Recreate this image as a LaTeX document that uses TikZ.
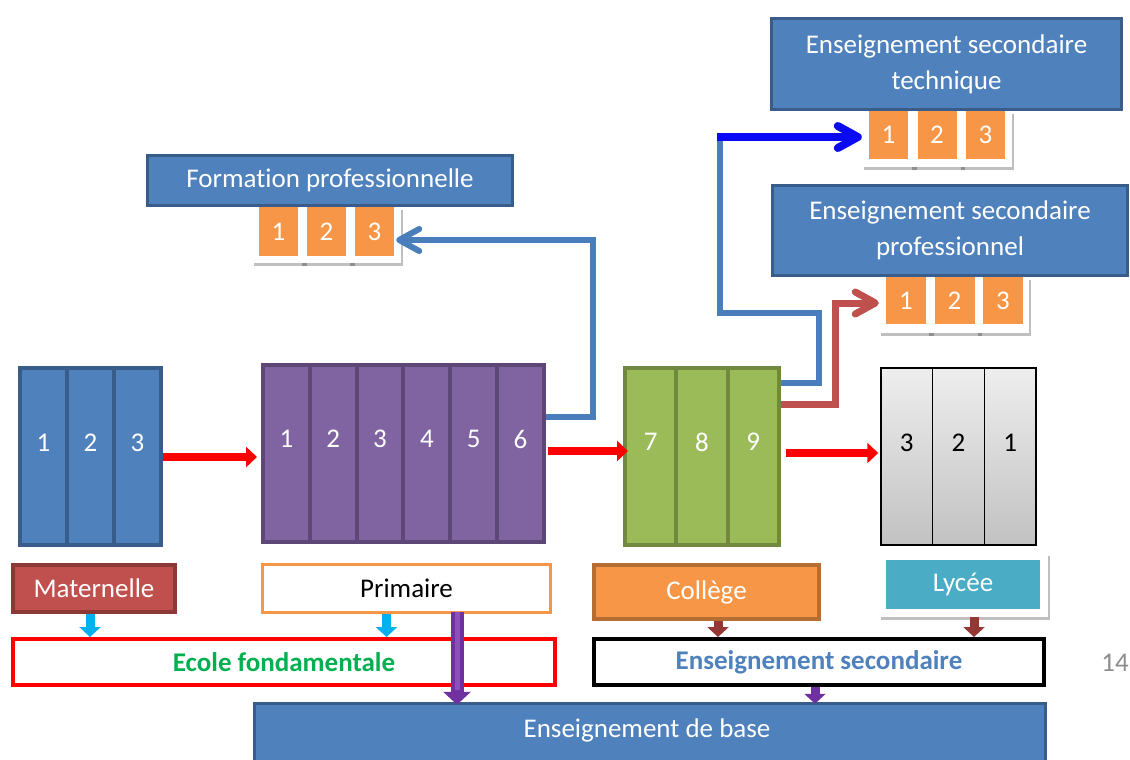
\documentclass[tikz,border=0pt]{standalone}
\usepackage{fontspec}
\setmainfont{Carlito}[Ligatures=CommonOff]
\usetikzlibrary{arrows.meta,calc,shadows}
\definecolor{bxblue}{HTML}{4F81BD}
\definecolor{bxblueD}{HTML}{385D8A}
\definecolor{bxpur}{HTML}{8064A2}
\definecolor{bxpurD}{HTML}{5C4776}
\definecolor{bxgrn}{HTML}{9BBB59}
\definecolor{bxgrnD}{HTML}{71893F}
\definecolor{bxora}{HTML}{F79646}
\definecolor{bxoraD}{HTML}{B66D31}
\definecolor{bxred}{HTML}{C0504D}
\definecolor{bxredD}{HTML}{8C3836}
\definecolor{bxteal}{HTML}{4BACC6}
\definecolor{arcyan}{HTML}{00B0F0}
\definecolor{ardred}{HTML}{953735}
\definecolor{arpur}{HTML}{7030A0}
\definecolor{arpurL}{HTML}{8A52BA}
\definecolor{txgrn}{HTML}{00B050}
\definecolor{lnsteel}{HTML}{4A7EBB}
\definecolor{lnblue}{HTML}{0A0AF5}
\definecolor{lygrayT}{HTML}{EEEEEE}
\definecolor{lygrayB}{HTML}{C2C2C2}
\definecolor{pgnum}{HTML}{8C8C8C}
\newcommand\lblfont{\fontsize{27}{36}\selectfont}
\begin{document}
\begin{tikzpicture}[x=1pt,y=-1pt,
  every node/.style={inner sep=0pt, font=\lblfont},
  colbox/.style={draw, rectangle, minimum height=177pt},
  bluebox/.style={draw=bxblueD, fill=bxblue, line width=3pt, text=white, align=center},
  softshadow/.style={drop shadow={shadow xshift=1.5pt, shadow yshift=-2.5pt, opacity=.25, fill=black}},
  cardbox/.style={fill=white, minimum width=53pt, minimum height=56pt, softshadow},
  orabox/.style={fill=bxora, text=white, minimum width=39pt},
  redarr/.style={draw=red, line width=8pt, -{Triangle[length=11pt,width=20pt]}},
  chevron/.style={-{Straight Barb[length=20pt,width=22pt,round]}},
  steelline/.style={draw=lnsteel, line width=6pt},
  smallarr/.style={line width=9pt, -{Triangle[length=10pt,width=21pt]}}
]
\useasboundingbox (0,0) rectangle (1130,760);
\clip (0,0) rectangle (1130,760);
\fill[white] (0,0) rectangle (1130,760);

% Maternelle columns
\foreach \k in {1,2,3}{
  \node[colbox, fill=bxblue, draw=bxblueD, line width=4pt, minimum width=47pt] (m\k) at ({43.5+47*(\k-1)},456) {};
  \node[text=white] (mn\k) at ($(m\k.center)+(0,-13)$) {\k};
}
% Primaire columns
\foreach \k in {1,...,6}{
  \node[colbox, fill=bxpur, draw=bxpurD, line width=4pt, minimum width=46.83pt] (p\k) at ({286.42+46.83*(\k-1)},453.5) {};
  \node[text=white] (pn\k) at ($(p\k.center)+(0,-14.5)$) {\k};
}
% College columns
\foreach \k [evaluate=\k as \lab using int(\k+6)] in {1,2,3}{
  \node[colbox, fill=bxgrn, draw=bxgrnD, line width=4pt, minimum width=51.33pt] (c\k) at ({650.67+51.33*(\k-1)},456.5) {};
  \node[text=white] (cn\k) at ($(c\k.center)+(0,-14.5)$) {\lab};
}
% Lycee columns
\foreach \k [evaluate=\k as \lab using int(4-\k)] in {1,2,3}{
  \node[colbox, top color=lygrayT, bottom color=lygrayB, draw=black, line width=1.5pt, minimum width=51.67pt] (ly\k) at ({906.83+51.67*(\k-1)},456.5) {};
  \node[text=black] (lyn\k) at ($(ly\k.center)+(0,-13.5)$) {\lab};
}

% cards: Formation professionnelle
\foreach \k/\l in {1/252,2/300,3/348}{
  \node[cardbox] (fpw\k) at ({\l+26.5},235) {};
  \node[orabox, minimum height=49pt] (fpo\k) at ({\l+26.5},231.5) {\k};
}
% cards: technique
\foreach \k/\l in {1/862,2/910.5,3/959}{
  \node[cardbox] (estw\k) at ({\l+26.5},139) {};
  \node[orabox, minimum height=48pt] (esto\k) at ({\l+26.5},135) {\k};
}
% cards: professionnel
\foreach \k/\l in {1/879,2/927.5,3/976}{
  \node[cardbox] (espw\k) at ({\l+26.5},305) {};
  \node[orabox, minimum width=40pt, minimum height=47pt] (espo\k) at ({\l+27},300.5) {\k};
}

% top boxes
\node[bluebox, minimum width=365pt, minimum height=50pt] (fp) at (330,180.5) {Formation professionnelle};
\node[bluebox, minimum width=350pt, minimum height=91pt] (est) at (946.5,64) {Enseignement secondaire\\technique};
\node[bluebox, minimum width=355pt, minimum height=90pt] (esp) at (950,230.5) {Enseignement secondaire\\professionnel};

% bottom labels
\node[fill=bxred, draw=bxredD, line width=4pt, minimum width=162pt, minimum height=47pt, text=white] (mat) at (94,588.5) {Maternelle};
\node[fill=white, draw=bxora, line width=3pt, minimum width=288pt, minimum height=48pt, text=black] (prim) at (406.5,588.5) {Primaire};
\node[fill=bxora, draw=bxoraD, line width=4pt, minimum width=225pt, minimum height=54pt, text=white] (col) at (706.5,592) {Collège};
\node[fill=white, minimum width=169pt, minimum height=64pt, softshadow] (lyccard) at (963.5,585) {};
\node[fill=bxteal, minimum width=154pt, minimum height=49pt, text=white] (lyc) at (963,584.5) {Lycée};
\node[fill=white, draw=red, line width=4pt, minimum width=542pt, minimum height=46pt, text=txgrn, font=\lblfont\bfseries] (ecole) at (284,662) {Ecole fondamentale};
\node[fill=white, draw=black, line width=4pt, minimum width=450pt, minimum height=46pt, text=bxblue, font=\lblfont\bfseries] (ensec) at (819,662) {Enseignement secondaire};
\node[fill=bxblue, draw=bxblueD, line width=3pt, minimum width=791pt, minimum height=87pt] (base) at (650,746.75) {};
\node[text=white] (basetxt) at (647,730) {Enseignement de base};
\node[text=pgnum, anchor=east] (pg) at (1129,663) {14};

% red progression arrows
\coordinate (r1) at ($(m3.east)+(0,1)$);
\draw[redarr, shorten >=4pt] (r1) -- (r1 -| p1.west);
\coordinate (r2) at ($(p6.east)+(2,-2.5)$);
\draw[redarr, shorten >=-5pt] (r2) -- (r2 -| c1.west);
\coordinate (r3) at ($(c3.east)+(5,-3.5)$);
\draw[redarr, shorten >=2pt] (r3) -- (r3 -| ly1.west);

% primaire -> formation professionnelle
\coordinate (b1) at ($(p6.east)+(0,-36.5)$);
\coordinate (b1t) at (593,240);
\draw[steelline, chevron, shorten >=-5pt] (b1) -| (b1t) -- (b1t -| fpw3.east);

% college -> technique
\coordinate (b2) at ($(c3.east)+(0,-73.5)$);
\coordinate (b2a) at (819,313);
\coordinate (b2b) at (720,137);
\draw[steelline] (b2) -| (b2a) -| (b2b);
\draw[draw=lnblue, line width=8pt, chevron] ([xshift=-3pt]b2b) -- (b2b -| estw1.west);

% college -> professionnel
\coordinate (rd) at ($(c3.east)+(0,-52.5)$);
\coordinate (rda) at (835,303);
\draw[draw=bxred, line width=7pt, chevron] (rd) -| (rda) -- (rda -| espw1.west);

% small arrows
\coordinate (cy1) at ($(mat.south)+(-4,0)$);
\draw[smallarr, arcyan] (cy1) -- (cy1 |- ecole.north);
\coordinate (cy2) at ($(prim.south)+(-20,0)$);
\draw[smallarr, arcyan] (cy2) -- (cy2 |- ecole.north);
\coordinate (dr1) at ($(col.south)+(11.5,0)$);
\draw[smallarr, ardred] (dr1) -- (dr1 |- ensec.north);
\coordinate (dr2) at ($(lyccard.south)+(10.5,0)$);
\draw[smallarr, ardred] (dr2) -- (dr2 |- ensec.north);
\coordinate (pu1) at ($(ensec.south)+(-4,0)$);
\draw[smallarr, arpur, shorten >=-2pt] (pu1) -- (pu1 |- base.north);
\coordinate (pp) at ($(prim.south)+(50.5,-2)$);
\draw[line width=13pt, arpur, -{Triangle[length=13pt,width=27pt]}, shorten >=-3pt] (pp) -- (pp |- base.north);
\draw[line width=5pt, arpurL] (pp) -- ($(pp |- base.north)+(0,-12)$);
\end{tikzpicture}
\end{document}
